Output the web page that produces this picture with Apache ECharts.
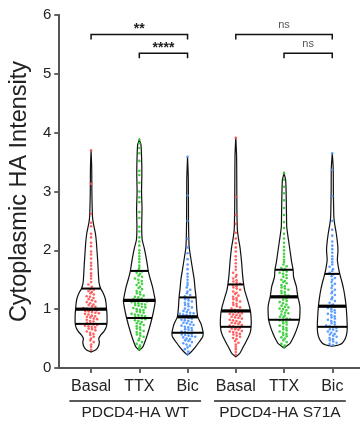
<!DOCTYPE html>
<html><head><meta charset="utf-8">
<script src="https://cdn.jsdelivr.net/npm/echarts@6/dist/echarts.min.js"></script>
<style>html,body{margin:0;padding:0;background:#fff}#c{width:360px;height:427px}</style>
</head><body><div id="c"></div>
<script>
// ---------- data ----------
const categories = ['Basal', 'TTX', 'Bic', 'Basal', 'TTX', 'Bic'];
const groupNames = ['PDCD4-HA WT', 'PDCD4-HA S71A'];
const groupMembers = [[1, 3], [4, 6]];
const yTickValues = [0, 1, 2, 3, 4, 5, 6];

// quartiles [Q1, median, Q3]
const quartiles = [
  [0.75, 1.00, 1.35],
  [0.85, 1.15, 1.65],
  [0.60, 0.87, 1.20],
  [0.70, 0.97, 1.42],
  [0.82, 1.21, 1.67],
  [0.70, 1.05, 1.60]
];

// relative kernel density [value, density(0..1)]
const densityBasalWT = [[0.27,0],[0.31,0.3],[0.36,0.45],[0.44,0.52],[0.5,0.48],[0.56,0.6],[0.62,0.8],[0.68,0.93],[0.76,1.0],[0.9,1.0],[0.98,0.98],[1.1,0.94],[1.19,0.88],[1.28,0.75],[1.35,0.6],[1.45,0.5],[1.6,0.46],[1.8,0.42],[2.0,0.37],[2.15,0.33],[2.29,0.27],[2.45,0.15],[2.57,0.09],[3.0,0.05],[3.4,0.04],[3.7,0]];
const densityTTXWT = [[0.3,0],[0.36,0.22],[0.48,0.4],[0.65,0.6],[0.85,0.8],[1.0,0.92],[1.14,1.0],[1.25,0.93],[1.38,0.83],[1.5,0.7],[1.64,0.57],[1.76,0.5],[1.89,0.42],[2.05,0.3],[2.18,0.18],[2.4,0.15],[2.7,0.17],[3.0,0.14],[3.3,0.16],[3.6,0.14],[3.8,0.1],[3.88,0]];
const densityBicWT = [[0.22,0],[0.28,0.25],[0.36,0.5],[0.45,0.75],[0.53,0.95],[0.6,0.98],[0.7,0.9],[0.76,0.83],[0.87,0.64],[1.0,0.58],[1.21,0.53],[1.35,0.47],[1.5,0.42],[1.67,0.32],[1.84,0.22],[2.06,0.1],[2.5,0.06],[3.2,0.05],[3.59,0]];
const densityBasalS71A = [[0.19,0],[0.25,0.25],[0.36,0.47],[0.45,0.65],[0.53,0.8],[0.62,0.92],[0.7,0.96],[0.8,0.97],[0.95,0.93],[1.08,0.82],[1.21,0.68],[1.32,0.56],[1.43,0.49],[1.6,0.42],[1.78,0.37],[1.92,0.32],[2.06,0.26],[2.2,0.17],[2.35,0.1],[2.7,0.07],[3.2,0.06],[3.6,0.05],[3.93,0]];
const densityTTXS71A = [[0.34,0],[0.38,0.2],[0.42,0.38],[0.5,0.55],[0.59,0.7],[0.7,0.85],[0.82,0.97],[0.95,1.0],[1.04,1.0],[1.12,0.95],[1.21,0.87],[1.3,0.82],[1.38,0.78],[1.47,0.68],[1.55,0.6],[1.67,0.57],[1.8,0.48],[1.95,0.4],[2.12,0.31],[2.25,0.24],[2.4,0.17],[2.7,0.15],[3.0,0.13],[3.2,0.1],[3.31,0]];
const densityBicS71A = [[0.37,0],[0.39,0.4],[0.43,0.65],[0.5,0.82],[0.6,0.92],[0.7,0.94],[0.85,0.92],[1.05,0.87],[1.2,0.8],[1.33,0.72],[1.47,0.6],[1.6,0.47],[1.72,0.38],[1.84,0.32],[2.0,0.36],[2.12,0.33],[2.29,0.25],[2.45,0.15],[2.57,0.1],[3.0,0.07],[3.4,0.06],[3.65,0]];
const densities = [densityBasalWT, densityTTXWT, densityBicWT, densityBasalS71A, densityTTXS71A, densityBicS71A];

// individual cell values
const cellsBasalWT = [3.70,3.13,2.62,2.47,2.41,2.28,2.22,2.13,2.07,1.98,1.93,1.86,1.79,1.74,1.68,1.61,1.57,1.52,1.46,1.42,1.38,
 1.34,1.33,1.31,1.29,1.27,1.25,1.22,1.21,1.19,1.17,1.15,1.13,1.12,1.10,1.08,1.07,1.05,1.04,1.02,1.01,
 0.99,0.99,0.98,0.97,0.96,0.95,0.94,0.93,0.92,0.91,0.89,0.88,0.87,0.86,0.84,0.83,0.82,0.80,0.79,0.77,0.76,
 0.74,0.73,0.72,0.71,0.70,0.69,0.67,0.66,0.64,0.62,0.60,0.58,0.56,0.53,0.50,0.47,0.44,0.40,0.36,0.31];
const cellsTTXWT = [3.88,3.82,3.74,3.65,3.52,3.35,3.28,3.15,3.0,2.9,2.82,2.65,2.55,2.4,2.32,2.22,2.15,2.08,2.0,1.95,1.9,1.85,1.8,1.74,1.7,1.67,
 1.64,1.62,1.6,1.57,1.55,1.52,1.5,1.48,1.45,1.43,1.41,1.38,1.36,1.34,1.31,1.29,1.27,1.25,1.23,1.21,1.2,1.18,1.17,1.16,1.15,
 1.14,1.13,1.12,1.11,1.1,1.09,1.08,1.07,1.06,1.04,1.03,1.02,1.0,0.99,0.98,0.96,0.95,0.94,0.92,0.91,0.9,0.89,0.88,0.87,0.86,
 0.84,0.83,0.81,0.8,0.78,0.76,0.75,0.73,0.71,0.69,0.67,0.65,0.63,0.61,0.59,0.57,0.55,0.53,0.5,0.47,0.44,0.41,0.38,0.35,0.32];
const cellsBicWT = [3.59,2.93,2.5,2.2,2.05,1.95,1.85,1.76,1.68,1.6,1.55,1.5,1.45,1.41,1.37,1.33,1.3,1.27,1.24,1.22,
 1.19,1.17,1.15,1.13,1.11,1.09,1.07,1.05,1.03,1.01,0.99,0.97,0.95,0.94,0.93,0.92,0.91,0.9,0.89,0.88,
 0.86,0.85,0.84,0.82,0.81,0.8,0.78,0.77,0.76,0.74,0.73,0.72,0.7,0.69,0.68,0.66,0.65,0.64,0.62,0.61,
 0.59,0.58,0.57,0.56,0.55,0.54,0.53,0.52,0.5,0.49,0.47,0.46,0.44,0.42,0.4,0.38,0.35,0.32,0.28,0.24];
const cellsBasalS71A = [3.91,2.91,2.6,2.45,2.3,2.2,2.12,2.05,1.98,1.9,1.84,1.78,1.72,1.67,1.62,1.58,1.55,1.52,1.49,1.47,1.45,1.43,
 1.41,1.39,1.37,1.35,1.33,1.3,1.28,1.26,1.23,1.21,1.19,1.17,1.15,1.13,1.11,1.09,1.07,1.05,1.03,1.01,0.99,0.98,
 0.96,0.95,0.94,0.93,0.92,0.91,0.9,0.89,0.87,0.86,0.85,0.84,0.82,0.81,0.8,0.78,0.77,0.76,0.75,0.73,0.72,0.71,
 0.69,0.68,0.67,0.66,0.65,0.63,0.62,0.61,0.6,0.58,0.57,0.55,0.53,0.51,0.49,0.46,0.43,0.4,0.36,0.32,0.27,0.22];
const cellsTTXS71A = [3.31,3.2,3.08,2.97,2.85,2.72,2.6,2.48,2.38,2.28,2.2,2.13,2.06,2.0,1.94,1.89,1.84,1.8,1.76,1.73,1.7,1.68,
 1.66,1.64,1.62,1.6,1.58,1.55,1.53,1.5,1.48,1.46,1.44,1.41,1.39,1.37,1.35,1.33,1.31,1.29,1.27,1.25,1.23,1.22,
 1.2,1.18,1.16,1.14,1.12,1.1,1.08,1.06,1.04,1.03,1.01,1.0,0.98,0.96,0.94,0.93,0.91,0.89,0.87,0.86,0.84,0.83,
 0.81,0.79,0.78,0.76,0.74,0.72,0.7,0.68,0.66,0.64,0.62,0.6,0.58,0.56,0.54,0.52,0.5,0.47,0.44,0.41,0.38,0.36];
const cellsBicS71A = [3.65,3.37,2.92,2.5,2.35,2.25,2.15,2.08,2.02,1.96,1.9,1.85,1.8,1.76,1.72,1.68,1.65,1.62,
 1.59,1.56,1.53,1.5,1.46,1.43,1.4,1.36,1.33,1.3,1.27,1.24,1.2,1.17,1.14,1.11,1.08,1.06,
 1.04,1.02,1.0,0.98,0.96,0.94,0.92,0.9,0.88,0.86,0.84,0.82,0.8,0.78,0.76,0.74,0.72,0.71,
 0.69,0.68,0.66,0.65,0.63,0.62,0.6,0.58,0.57,0.55,0.53,0.51,0.49,0.47,0.45,0.43,0.41,0.39];
const cells = [cellsBasalWT, cellsTTXWT, cellsBicWT, cellsBasalS71A, cellsTTXS71A, cellsBicS71A];

// significance comparisons [from category, to category, bracket level, label]
const comparisons = [[1, 3, 5.67, '**'], [2, 3, 5.35, '****'], [4, 6, 5.67, 'ns'], [5, 6, 5.35, 'ns']];

// ---------- styling / layout ----------
const pointColors = ['#ff4f4f', '#2fcc2f', '#4d94ff', '#ff4f4f', '#2fcc2f', '#4d94ff'];
const HALF = 0.33;          // max half-width of a violin in x units
const FONT = "'Liberation Sans', Arial, sans-serif";
const AXIS_COLOR = '#555';

function halfWidth(prof, v) {
  if (v <= prof[0][0] || v >= prof[prof.length - 1][0]) return 0;
  for (let k = 1; k < prof.length; k++) {
    if (v <= prof[k][0]) {
      const a = prof[k - 1], b = prof[k];
      const t = (v - a[0]) / (b[0] - a[0]);
      return (a[1] + t * (b[1] - a[1])) * HALF;
    }
  }
  return 0;
}

// beeswarm-like layout of points inside each violin
const scatterSeries = cells.map((vals, i) => {
  const pos = i + 1, prof = densities[i];
  const bins = {};
  vals.forEach(v => { const b = Math.round(v / 0.05); (bins[b] = bins[b] || []).push(v); });
  const pts = [];
  Object.keys(bins).forEach(b => {
    const arr = bins[b], n = arr.length;
    arr.forEach((v, k) => {
      const hw = Math.max(halfWidth(prof, v) * 0.8, 0.01);
      const sp = Math.min(0.07, n > 1 ? (2 * hw) / (n - 1) : 0);
      const shift = (parseInt(b) % 2 ? 0.02 : -0.02) * (n > 1 ? 1 : 0);
      pts.push([pos + (k - (n - 1) / 2) * sp + shift, v]);
    });
  });
  return {
    type: 'scatter', data: pts, symbol: 'circle', symbolSize: 2.6, z: 3,
    itemStyle: { color: pointColors[i], opacity: 0.9 }, silent: true
  };
});

const chart = echarts.init(document.getElementById('c'), null, { renderer: 'canvas' });

const option = {
  animation: false,
  backgroundColor: '#fff',
  grid: { left: 57, right: 0, top: 15, bottom: 59, containLabel: false },
  xAxis: {
    type: 'value', min: 0.34, max: 6.575,
    splitLine: { show: false },
    axisLine: { show: true, lineStyle: { color: AXIS_COLOR, width: 2 } },
    axisTick: { show: true, customValues: [1, 2, 3, 4, 5, 6], length: 5, lineStyle: { color: AXIS_COLOR, width: 1.8 } },
    axisLabel: {
      customValues: [1, 2, 3, 4, 5, 6], margin: 11,
      formatter: v => categories[Math.round(v) - 1] || '',
      fontFamily: FONT, fontSize: 16, color: '#222'
    }
  },
  yAxis: {
    type: 'value', min: 0, max: 6, interval: 1,
    splitLine: { show: false },
    axisLine: { show: true, lineStyle: { color: AXIS_COLOR, width: 2 } },
    axisTick: { show: true, length: 5, lineStyle: { color: AXIS_COLOR, width: 1.8 } },
    axisLabel: { fontFamily: FONT, fontSize: 15, color: '#222', margin: 8,
      formatter: v => yTickValues.includes(v) ? String(v) : '' },
    name: 'Cytoplasmic HA Intensity', nameLocation: 'middle', nameGap: 25,
    nameTextStyle: { fontFamily: FONT, fontSize: 23.5, color: '#222' }
  },
  series: [
    {
      type: 'custom', z: 2, silent: true,
      data: categories.map((c, i) => [i + 1, quartiles[i][1]]),
      renderItem: (params, api) => {
        const i = params.dataIndex, pos = i + 1, prof = densities[i];
        const right = prof.map(p => api.coord([pos + p[1] * HALF, p[0]]));
        const left = prof.slice().reverse().map(p => api.coord([pos - p[1] * HALF, p[0]]));
        return {
          type: 'polygon',
          shape: { points: right.concat(left), smooth: 0.2 },
          style: { fill: '#fff', stroke: '#111', lineWidth: 1.2 }
        };
      }
    },
    ...scatterSeries,
    {
      type: 'custom', z: 4, silent: true,
      data: categories.map((c, i) => [i + 1, quartiles[i][1]]),
      renderItem: (params, api) => {
        const i = params.dataIndex, pos = i + 1, prof = densities[i];
        const children = quartiles[i].map((q, k) => {
          const hw = halfWidth(prof, q);
          const a = api.coord([pos - hw, q]), b = api.coord([pos + hw, q]);
          return { type: 'line', shape: { x1: a[0], y1: a[1], x2: b[0], y2: b[1] },
            style: { stroke: '#000', lineWidth: k === 1 ? 3.2 : 2 } };
        });
        return { type: 'group', children };
      }
    },
    {
      type: 'custom', z: 5, silent: true, clip: false,
      data: comparisons.map(c => [c[0], c[2]]),
      renderItem: (params, api) => {
        const c = comparisons[params.dataIndex];
        const p1 = api.coord([c[0], c[2]]), p2 = api.coord([c[1], c[2]]);
        const stars = c[3] !== 'ns';
        return {
          type: 'group', children: [
            { type: 'polyline', shape: { points: [[p1[0], p1[1] + 5], [p1[0], p1[1]], [p2[0], p2[1]], [p2[0], p2[1] + 5]] },
              style: { stroke: '#111', lineWidth: 1.5, fill: null } },
            { type: 'text', x: (p1[0] + p2[0]) / 2, y: p1[1] - (stars ? 5 : 9),
              style: { text: c[3], fontFamily: FONT, fontSize: stars ? 14 : 11, fontWeight: stars ? 'bold' : 'normal',
                fill: stars ? '#222' : '#555', align: 'center', verticalAlign: 'middle' } }
          ]
        };
      }
    },
    {
      type: 'custom', z: 5, silent: true, clip: false,
      data: groupMembers.map(g => [g[0], 0]),
      renderItem: (params, api) => {
        const g = groupMembers[params.dataIndex];
        const x1 = api.coord([g[0] - 0.45, 0])[0], x2 = api.coord([g[1] + 0.28, 0])[0];
        const y0 = api.coord([g[0], 0])[1];
        return {
          type: 'group', children: [
            { type: 'line', shape: { x1, y1: y0 + 33, x2, y2: y0 + 33 }, style: { stroke: '#222', lineWidth: 1.3 } },
            { type: 'text', x: (x1 + x2) / 2, y: y0 + 45,
              style: { text: groupNames[params.dataIndex], fontFamily: FONT, fontSize: 15.5, fill: '#222',
                align: 'center', verticalAlign: 'middle' } }
          ]
        };
      }
    }
  ]
};
chart.setOption(option);
</script>
</body></html>
